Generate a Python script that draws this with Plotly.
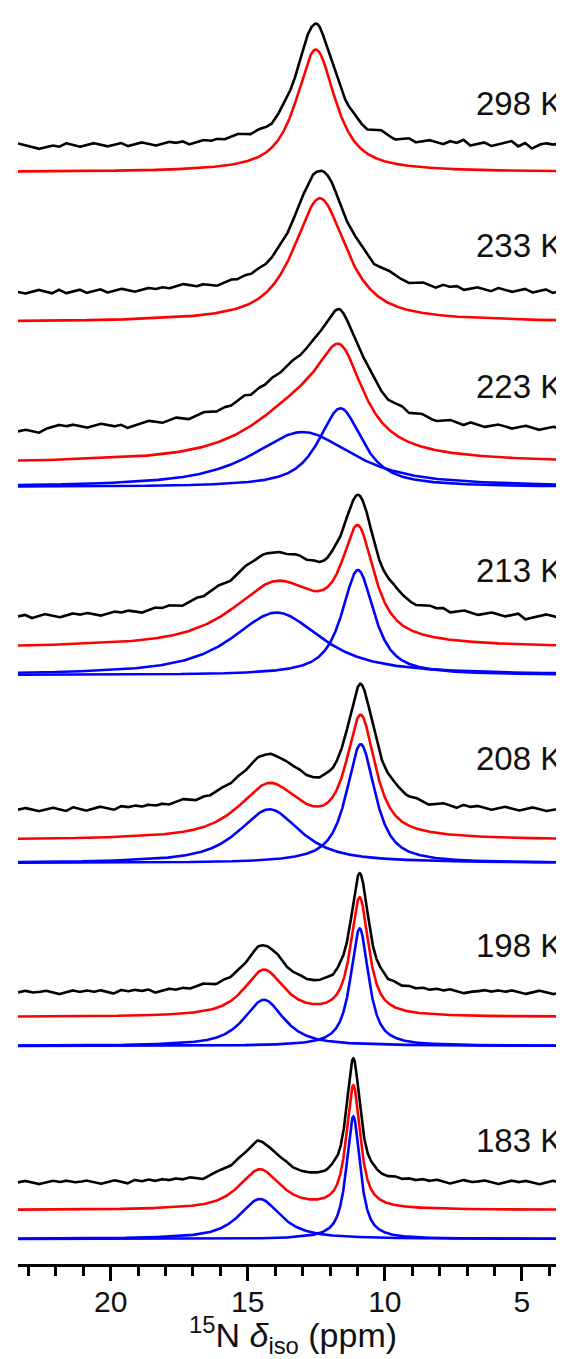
import numpy as np
import plotly.graph_objects as go

# ---------------- data ----------------
temps = ["298 K", "233 K", "223 K", "213 K", "208 K", "198 K", "183 K"]

# fitted components per temperature: centre (ppm), FWHM (ppm), height (norm.)
comp_center = [[12.52], [12.37], [11.62, 13.00], [10.98, 13.95],
               [10.88, 14.21], [10.92, 14.41], [11.15, 14.56]]
comp_fwhm = [[1.7], [2.3], [1.9, 4.4], [1.4, 3.9],
             [1.25, 2.7], [0.78, 1.75], [0.6, 1.8]]
comp_height = [[0.98], [0.99], [0.63, 0.44], [0.84, 0.50],
               [0.95, 0.43], [0.94, 0.37], [0.98, 0.32]]
lorentz_fraction = 0.85

# noise of the measured spectrum about the fit (steps of 2 px),
# read every 0.25 ppm from 23.4 down to 3.4 ppm
resid_ppm = [round(23.4 - 0.25 * i, 2) for i in range(81)]
resid = [
    [1, 0, -1, -2, -1, 0, -1, 1, 0, -1, 0, 1, 0, -1, 0, 1, -1, 0, 1, 0,
     -1, 0, 1, 0, 1, -1, 0, 1, 0, 1, 0, 1, 2, 1, 0, 1, 0, -1, 0, 1,
     0, 0, 1, 0, 0, -1, 0, 1, 0, 1, 0, -1, 1, 2, 1, -1, 0, 1, -1, 0,
     1, 0, -1, 1, 0, 2, -1, 0, 1, -1, 0, 1, 2, -1, 1, -2, 0, 1, 0, 1, 0],
    [0, -1, 0, 1, 0, -1, 1, -1, 0, 1, -1, 0, 1, -1, 0, 1, 0, -1, 0, 1,
     0, 1, 0, 1, 2, 1, 0, 1, 0, -1, 0, 1, 0, 1, 0, 1, 0, 0, 1, 0,
     0, 1, 0, 0, -1, 0, 1, 0, 0, 1, 2, 1, 0, 1, 2, 1, 0, -1, 0, 1,
     0, -1, 1, 0, 1, -1, 0, 1, 0, -1, 1, 0, -1, 0, 1, -1, 0, 1, -1, 0, 0],
    [-1, 0, -1, -2, 0, 1, 2, 1, 2, 1, 0, 1, 2, 1, 0, 1, -1, 0, 1, 2,
     1, 0, 1, 2, 1, 0, 1, 2, 1, 0, 1, 0, 1, 2, 0, 1, 0, 1, 0, 0,
     1, 0, 0, 1, 0, 0, 1, 2, 1, 0, 1, 2, 1, 0, -1, 0, 1, -1, 0, 1,
     0, -1, 0, 1, 0, -1, 1, 0, -1, 0, 1, 0, -1, 0, 1, 0, -1, 0, 1, 0, 0],
    [0, 1, -1, 0, 1, 0, -1, 0, 1, 0, 1, 0, -1, 0, 1, 0, 1, 0, -1, 0,
     1, 0, 1, 0, -1, 0, 1, 0, 1, 2, 1, 0, 1, 2, 1, 1, 1, 0, 0, -1,
     0, 1, 0, 1, 0, 0, 1, 0, 0, 0, 1, 2, 1, 0, 1, 2, 1, 0, -1, 0,
     1, 0, 1, -1, 0, 1, 0, -1, 0, 1, 0, -1, 0, 1, -2, -1, 0, 1, 0, -1, 0],
    [0, 1, 0, -1, 0, 1, 0, -1, 1, 0, -1, 0, 1, 0, -1, 1, 0, 1, 0, 1,
     0, 1, 0, 1, 2, 1, 0, 1, 0, 1, 1, 0, 1, 0, 0, 1, 0, 0, -1, 0,
     0, 1, 0, 0, 0, 1, 0, 0, 0, 0, 1, 0, 1, 0, 1, 2, 1, 0, 1, 0,
     -1, 0, 1, 0, -1, 1, 0, 1, 0, -1, 0, 1, 0, -1, 0, 1, 0, -1, 0, 0, 0],
    [0, 1, 0, 0, 1, 0, -1, 0, 1, 0, 1, 0, 1, 0, -1, 1, 0, 1, 0, 1,
     -1, 0, 1, 0, 1, 0, 1, 2, 1, 0, 1, 0, 1, 0, 0, 1, 0, 0, 1, 0,
     0, 1, 0, 0, 0, 1, 0, 1, 0, 0, 0, 1, 0, 1, 0, 1, 0, 1, 0, 1,
     0, 1, 0, 1, 0, -1, 0, 0, 1, 0, 1, 0, 1, 0, -1, 0, 1, 0, -1, 0, 0],
    [0, 1, 0, -1, 0, 1, 0, 1, 0, 0, 1, 0, -1, 0, 1, 0, -1, 1, 0, 1,
     0, 1, 0, 1, 0, 1, 0, -1, 0, 1, 1, 0, 1, 0, 0, 1, 0, 0, 0, 1,
     0, 0, 0, 0, 0, 0, 1, 0, 0, 0, 0, 0, 1, 0, 0, 1, 0, 1, 0, 1,
     0, 1, 0, -1, 0, 1, 0, 0, 1, 0, -1, 0, 1, 0, 1, 0, -1, 0, 1, 0, 0],
]
RESID_STEP_PX = 2.0

tick_vals = [20, 15, 10, 5]
tick_text = ["20", "15", "10", "5"]

# ---------------- layout constants ----------------
W, H = 564, 1359
PLOT_BOTTOM = 1256          # pixel row of the x axis
PX_PER_UNIT = 125.0
# baseline pixel rows (from top) for black / red / blue traces
black_row = [138, 285, 424, 611, 803, 985, 1175]
red_row = [164, 314, 455, 640, 832, 1009, 1202]
blue_row = [None, None, 479, 667, 855, 1038, 1231]
label_row = [95, 237, 378, 562, 750, 937, 1132]
X_LEFT, X_RIGHT = 23.38, 3.32
FONT = "Liberation Sans, Arial, sans-serif"


def off(row):
    return (PLOT_BOTTOM - row) / PX_PER_UNIT


def pv(x, c, w, h, eta):
    lor = 1.0 / (1.0 + (2.0 * (x - c) / w) ** 2)
    gau = np.exp(-4.0 * np.log(2.0) * ((x - c) / w) ** 2)
    return h * (eta * lor + (1 - eta) * gau)


x = np.linspace(X_LEFT, X_RIGHT, 2400)
rp = np.array(resid_ppm)[::-1]

fig = go.Figure()
for k, t in enumerate(temps):
    comps = [pv(x, c, w, h, lorentz_fraction)
             for c, w, h in zip(comp_center[k], comp_fwhm[k], comp_height[k])]
    fit = np.sum(comps, axis=0)
    rv = np.array(resid[k], float)[::-1] * RESID_STEP_PX / PX_PER_UNIT
    r = np.interp(x[::-1], rp, rv)[::-1]
    if blue_row[k] is not None:
        for cmp in comps:
            fig.add_trace(go.Scatter(x=x, y=cmp + off(blue_row[k]), mode="lines",
                                     line=dict(color="#0000ff", width=2.6),
                                     showlegend=False, hoverinfo="skip"))
    fig.add_trace(go.Scatter(x=x, y=fit + off(red_row[k]), mode="lines",
                             line=dict(color="#ff0000", width=2.6),
                             showlegend=False, hoverinfo="skip"))
    fig.add_trace(go.Scatter(x=x, y=fit + r + off(black_row[k]), mode="lines",
                             line=dict(color="#000000", width=2.6),
                             showlegend=False, hoverinfo="skip"))
    fig.add_annotation(x=3.45, y=off(label_row[k]), xref="x", yref="y",
                       text=t, showarrow=False, xanchor="right", yanchor="middle",
                       font=dict(size=33, color="#111111", family=FONT))

fig.add_annotation(x=0.5, y=(PLOT_BOTTOM - 1327) / PLOT_BOTTOM, xref="paper", yref="paper",
                   text="<sup>15</sup>N <i>δ</i><sub>iso</sub> (ppm)", showarrow=False,
                   xanchor="center", yanchor="middle",
                   font=dict(size=34, color="#111111", family=FONT))

fig.update_layout(
    width=W, height=H,
    margin=dict(l=10, r=4, t=0, b=H - PLOT_BOTTOM, autoexpand=False),
    paper_bgcolor="white", plot_bgcolor="white",
    xaxis=dict(range=[X_LEFT, X_RIGHT], tickvals=tick_vals, ticktext=tick_text,
               ticks="outside", ticklen=14, tickwidth=3, tickcolor="black",
               showline=True, linewidth=3, linecolor="black",
               showgrid=False, zeroline=False, automargin=False,
               ticklabelstandoff=-5,
               tickfont=dict(size=30, color="#111111", family=FONT),
               minor=dict(dtick=1, tick0=0, ticks="outside", ticklen=9,
                          tickwidth=3, tickcolor="black", showgrid=False)),
    yaxis=dict(range=[0, PLOT_BOTTOM / PX_PER_UNIT], visible=False,
               showgrid=False, zeroline=False),
)

fig.write_html("out.html")
